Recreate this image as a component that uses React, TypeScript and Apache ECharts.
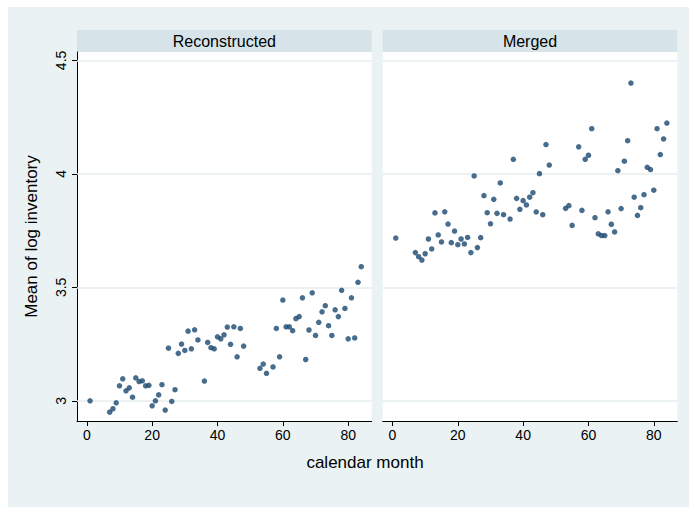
import React, { useEffect, useRef } from "react";
import * as echarts from "echarts";

const months = [
  1, 7, 8, 9, 10, 11, 12, 13, 14, 15, 16, 17, 18, 19, 20, 21, 22, 23, 24, 25, 26, 27, 28, 29, 30, 31, 32, 33, 34,
  36, 37, 38, 39, 40, 41, 42, 43, 44, 45, 46, 47, 48,
  53, 54, 55,
  57, 58, 59, 60, 61, 62, 63, 64, 65, 66, 67, 68, 69, 70, 71, 72, 73, 74, 75, 76, 77, 78, 79, 80, 81, 82, 83, 84,
];

const reconstructed = [
  3.0, 2.95, 2.965, 2.991, 3.066, 3.097, 3.044, 3.057, 3.016, 3.101, 3.085, 3.088, 3.066, 3.068, 2.978, 3.0, 3.026,
  3.071, 2.959, 3.232, 2.997, 3.049, 3.209, 3.25, 3.222, 3.307, 3.229, 3.313, 3.268,
  3.087, 3.257, 3.234, 3.229, 3.282, 3.273, 3.291, 3.325, 3.249, 3.326, 3.194, 3.319, 3.241,
  3.143, 3.162, 3.121,
  3.149, 3.319, 3.194, 3.444, 3.326, 3.326, 3.309, 3.362, 3.371, 3.454, 3.182, 3.312, 3.476, 3.288, 3.346, 3.392,
  3.419, 3.331, 3.288, 3.401, 3.371, 3.487, 3.407, 3.273, 3.454, 3.277, 3.522, 3.591,
];

const merged = [
  3.717, 3.653, 3.635, 3.62, 3.648, 3.713, 3.669, 3.828, 3.731, 3.7, 3.833, 3.779, 3.697, 3.748, 3.688, 3.713, 3.691,
  3.72, 3.653, 3.991, 3.675, 3.719, 3.904, 3.829, 3.78, 3.888, 3.826, 3.96, 3.82,
  3.801, 4.064, 3.892, 3.844, 3.882, 3.863, 3.897, 3.917, 3.832, 4.001, 3.82, 4.129, 4.039,
  3.848, 3.86, 3.773,
  4.119, 3.839, 4.064, 4.082, 4.199, 3.807, 3.736, 3.728, 3.728, 3.833, 3.778, 3.744, 4.014, 3.847, 4.056, 4.146,
  4.4, 3.897, 3.817, 3.851, 3.908, 4.029, 4.019, 3.928, 4.199, 4.085, 4.154, 4.224,
];

const panelTitles = ["Reconstructed", "Merged"];
const xTicks = [0, 20, 40, 60, 80];
const yTicks = [3, 3.5, 4, 4.5];
const yTitle = "Mean of log inventory";
const xTitle = "calendar month";

const FONT = "Liberation Sans, Arial, Helvetica, sans-serif";
const MARK = "#1a476f";
const BG = "#eaf2f3";
const STRIP = "#d6e4ea";

export default function App() {
  const ref = useRef<HTMLDivElement>(null);

  useEffect(() => {
    if (!ref.current) return;
    const chart = echarts.init(ref.current, undefined, { renderer: "svg" });

    const grids = [
      { left: 69, top: 45, width: 294.7, height: 369 },
      { left: 374.7, top: 45, width: 294.6, height: 369 },
    ];

    const xAxis = grids.map((_, i) => ({
      type: "value",
      gridIndex: i,
      min: -3,
      max: 87.2,
      axisLine: { show: true, onZero: false, lineStyle: { color: "#000", width: 1 } },
      axisTick: { show: true, length: 5, customValues: xTicks, lineStyle: { color: "#000" } },
      axisLabel: { show: true, customValues: xTicks, fontSize: 14, color: "#000", fontFamily: FONT, margin: 7 },
      splitLine: { show: false },
    }));

    const yAxis = grids.map((_, i) => ({
      type: "value",
      gridIndex: i,
      min: 2.911,
      max: 4.537,
      name: i === 0 ? yTitle : "",
      nameLocation: "middle",
      nameRotate: 90,
      nameGap: 37,
      nameTextStyle: { fontSize: 17, color: "#000", fontFamily: FONT },
      axisLine: { show: i === 0, onZero: false, lineStyle: { color: "#000", width: 1 } },
      axisTick: { show: i === 0, length: 5, customValues: yTicks, lineStyle: { color: "#000" } },
      axisLabel: {
        show: i === 0,
        customValues: yTicks,
        rotate: 90,
        fontSize: 14,
        color: "#000",
        fontFamily: FONT,
        margin: 9,
      },
      splitLine: { show: false },
    }));

    const gridLineSeries = grids.map((_, i) => ({
      type: "scatter",
      xAxisIndex: i,
      yAxisIndex: i,
      data: [],
      z: 1,
      silent: true,
      markLine: {
        silent: true,
        z: 1,
        symbol: "none",
        label: { show: false },
        lineStyle: { color: "#e6eef0", width: 1.5, type: "solid" },
        data: yTicks.map((v) => ({ yAxis: v })),
      },
    }));

    const dataSets = [reconstructed, merged];
    const pointSeries = dataSets.map((vals, i) => ({
      type: "scatter",
      xAxisIndex: i,
      yAxisIndex: i,
      z: 6,
      symbol: "circle",
      symbolSize: 5.5,
      itemStyle: { color: MARK },
      data: months.map((m, k) => [m, vals[k]]),
    }));

    const graphic: any[] = [];
    grids.forEach((g, i) => {
      graphic.push({
        type: "rect",
        left: g.left,
        top: 23,
        shape: { width: g.width, height: 22 },
        style: { fill: STRIP },
        silent: true,
      });
      graphic.push({
        type: "text",
        x: g.left + g.width / 2,
        y: 34,
        style: {
          text: panelTitles[i],
          fill: "#000",
          fontSize: 16,
          fontFamily: FONT,
          align: "center",
          verticalAlign: "middle",
        },
        silent: true,
      });
    });
    graphic.push({
      type: "text",
      x: 357,
      y: 455,
      style: {
        text: xTitle,
        fill: "#000",
        fontSize: 17,
        fontFamily: FONT,
        align: "center",
        verticalAlign: "middle",
      },
      silent: true,
    });

    chart.setOption({
      animation: false,
      backgroundColor: BG,
      grid: grids.map((g) => ({ ...g, backgroundColor: "#fff", show: true, borderWidth: 0 })),
      xAxis,
      yAxis,
      series: [...gridLineSeries, ...pointSeries],
      graphic,
    });

    return () => chart.dispose();
  }, []);

  return (
    <div
      ref={ref}
      style={{ position: "absolute", left: 8, top: 7, width: 681, height: 500 }}
    />
  );
}
